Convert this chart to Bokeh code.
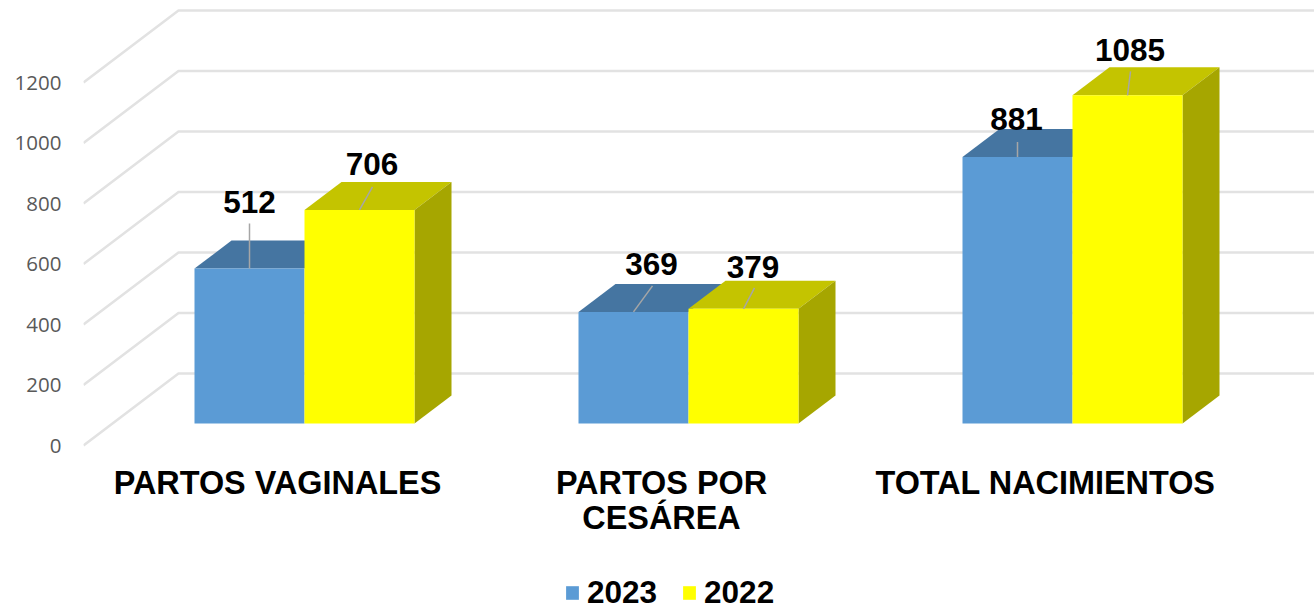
from bokeh.plotting import figure
from bokeh.models import FixedTicker, Legend, LegendItem, Range1d, LinearAxis
from bokeh.core.properties import value
from bokeh.embed import file_html
from bokeh.resources import INLINE

# ---- data ----
categories_line1 = ["PARTOS VAGINALES", "PARTOS POR", "TOTAL NACIMIENTOS"]
categories_line2 = ["", "CESÁREA", ""]
series_2023 = [512, 369, 881]
series_2022 = [706, 379, 1085]
y_ticks = [0, 200, 400, 600, 800, 1000, 1200]
series_names = ["2023", "2022"]

# ---- layout (pixels) ----
W, H = 1314, 611
L, B = 83, 445           # frame left / pixel row of value 0
PX_PER_UNIT = 0.3025     # vertical pixels per value unit
PX_PER_CAT = 384.0       # horizontal pixels per category
C0 = 304.0               # x pixel of first category centre
BAR_W = 110 / PX_PER_CAT
FLOOR = 22 / PX_PER_UNIT             # bar base above the front floor edge
BAR_DX, BAR_DY = 37 / PX_PER_CAT, 28 / PX_PER_UNIT
WALL_DX, WALL_DY = 95 / PX_PER_CAT, 72 / PX_PER_UNIT
LABEL_SHIFT = -27 / PX_PER_CAT       # category labels sit left of the group centre
LINE2_DROP = 35 / PX_PER_UNIT

# per-label placement: (pixels from the bar's top-centre)
label_off_23 = [(0, 67), (18, 47.5), (-1, 38)]
label_off_22 = [(12.5, 46), (9.5, 41.5), (2.5, 45)]
leader_off_23 = [(0, 45), (19, 26), (0, 15)]
leader_off_22 = [(13, 23), (11, 21), (3, 24)]

BLUE, BLUE_TOP = "#5B9BD5", "#4575A1"
YEL, YEL_TOP, YEL_SIDE = "#FFFF00", "#C4C400", "#A6A600"
GRID = "#E2E2E2"
BOLD = value("Liberation Sans")

p = figure(
    width=W, height=H, output_backend="svg", toolbar_location=None,
    x_range=Range1d((L - C0) / PX_PER_CAT, (W - C0) / PX_PER_CAT),
    y_range=Range1d(-(H - B) / PX_PER_UNIT, B / PX_PER_UNIT),
    x_axis_location="below", y_axis_location="left",
    min_border_left=L, min_border_right=0, min_border_top=0,
    min_border_bottom=0, outline_line_color=None,
)
p.grid.visible = False
p.background_fill_color = "white"
p.border_fill_color = "white"

# axes
ya = p.yaxis[0]
ya.ticker = FixedTicker(ticks=y_ticks)
ya.axis_line_color = None
ya.major_tick_line_color = None
ya.minor_tick_line_color = None
ya.major_label_standoff = 16
ya.major_label_text_font = "Open Sans"
ya.major_label_text_font_size = "20.5px"
ya.major_label_text_color = "#595959"

xticks = [i + LABEL_SHIFT for i in range(len(categories_line1))]


def style_x(axis, labels_, fixed):
    axis.ticker = FixedTicker(ticks=[t for t, c in zip(xticks, labels_) if c])
    axis.major_label_overrides = {t: c for t, c in zip(xticks, labels_) if c}
    axis.fixed_location = fixed
    axis.axis_line_color = None
    axis.major_tick_line_color = None
    axis.minor_tick_line_color = None
    axis.major_label_standoff = 13
    axis.major_label_text_font = "Liberation Sans"
    axis.major_label_text_font_style = "bold"
    axis.major_label_text_font_size = "32.4px"
    axis.major_label_text_color = "#000000"


style_x(p.xaxis[0], categories_line1, 0)
xa2 = LinearAxis()
style_x(xa2, categories_line2, -LINE2_DROP)
p.add_layout(xa2, "below")

# back wall + floor gridlines
x_front = (L - C0) / PX_PER_CAT
x_end = (W - C0) / PX_PER_CAT
p.multi_line(
    xs=[[x_front, x_front + WALL_DX, x_end] for _ in y_ticks],
    ys=[[v, v + WALL_DY, v + WALL_DY] for v in y_ticks],
    line_color=GRID, line_width=2.5,
)


def box(center_vals, left_offset, front, top_col, side_col=None):
    lefts = [i + left_offset for i in range(len(center_vals))]
    rights = [x + BAR_W for x in lefts]
    tops = [FLOOR + v for v in center_vals]
    p.patches(
        xs=[[l, l + BAR_DX, r + BAR_DX, r] for l, r in zip(lefts, rights)],
        ys=[[t, t + BAR_DY, t + BAR_DY, t] for t in tops],
        fill_color=top_col, line_color=None,
    )
    if side_col:
        p.patches(
            xs=[[r, r + BAR_DX, r + BAR_DX, r] for r in rights],
            ys=[[FLOOR, FLOOR + BAR_DY, t + BAR_DY, t] for t in tops],
            fill_color=side_col, line_color=None,
        )
    return p.quad(left=lefts, right=rights, bottom=FLOOR, top=tops,
                  fill_color=front, line_color=None)


r23 = box(series_2023, -BAR_W, BLUE, BLUE_TOP)
r22 = box(series_2022, 0, YEL, YEL_TOP, YEL_SIDE)


def labels(vals, left_offset, label_off, leader_off):
    cx = [i + left_offset + BAR_W / 2 for i in range(len(vals))]
    tops = [FLOOR + v for v in vals]
    p.segment(
        x0=cx, y0=tops,
        x1=[x + o[0] / PX_PER_CAT for x, o in zip(cx, leader_off)],
        y1=[t + o[1] / PX_PER_UNIT for t, o in zip(tops, leader_off)],
        line_color="#A6A6A6", line_width=1.5,
    )
    p.text(
        x=[x + o[0] / PX_PER_CAT for x, o in zip(cx, label_off)],
        y=[t + o[1] / PX_PER_UNIT for t, o in zip(tops, label_off)],
        text=[str(v) for v in vals],
        text_font=BOLD, text_font_style="bold", text_font_size="31.5px",
        text_color="#000000", text_align="center", text_baseline="middle",
    )


labels(series_2023, -BAR_W, label_off_23, leader_off_23)
labels(series_2022, 0, label_off_22, leader_off_22)

legend = Legend(
    items=[LegendItem(label=series_names[0], renderers=[r23]),
           LegendItem(label=series_names[1], renderers=[r22])],
    orientation="horizontal", location=(564 - L, 0),
    glyph_width=16, glyph_height=17, label_standoff=7, spacing=24,
    padding=0, margin=0, border_line_color=None, background_fill_alpha=0,
    label_text_font="Liberation Sans", label_text_font_style="bold",
    label_text_font_size="31.5px", label_text_color="#000000",
)
p.add_layout(legend, "center")

open("out.html", "w").write(file_html(p, INLINE))
